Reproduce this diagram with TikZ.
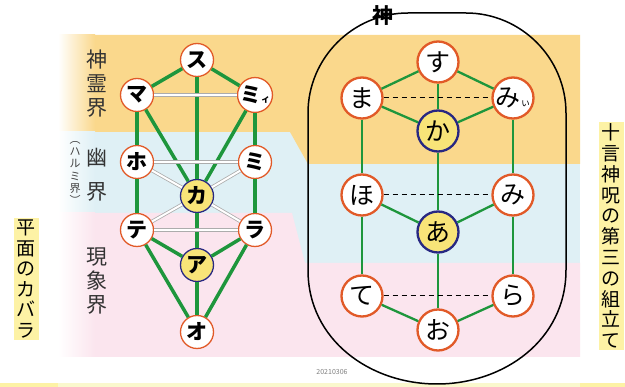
\documentclass[tikz,border=0pt]{standalone}
\usepackage{fontspec}
\setmainfont{Noto Sans CJK JP}
\definecolor{bgor}{RGB}{250,216,140}
\definecolor{bgbl}{RGB}{223,240,245}
\definecolor{bgpk}{RGB}{251,229,238}
\definecolor{grn}{RGB}{30,150,60}
\definecolor{nodeor}{RGB}{225,90,40}
\definecolor{cenyel}{RGB}{248,228,120}
\definecolor{cenblue}{RGB}{40,40,130}
\definecolor{labyel}{RGB}{253,242,165}
\definecolor{bandyel}{RGB}{250,248,205}
\begin{document}
\begin{tikzpicture}[x=1pt,y=-1pt,
  lnode/.style={circle, draw=nodeor, line width=1.3pt, fill=white, minimum size=33pt, inner sep=0pt, font=\fontsize{21}{21}\selectfont\bfseries},
  lcen/.style={lnode, draw=cenblue, fill=cenyel},
  rnode/.style={circle, draw=nodeor, line width=2.3pt, fill=white, minimum size=41pt, inner sep=0pt, font=\fontsize{25}{25}\selectfont},
  rcen/.style={rnode, draw=cenblue, fill=cenyel},
  gl/.style={draw=grn, line width=3.5pt},
  gr/.style={draw=grn, line width=2.3pt},
  dbl/.style={draw=gray!65, double=white, double distance=2pt, line width=0.8pt},
  dsh/.style={draw=black, line width=1pt, dash pattern=on 5pt off 4pt},
  vlab/.style={align=center, inner sep=0pt, text=black!80, font=\fontsize{21}{24}\selectfont},
  sidelab/.style={align=center, fill=labyel, inner xsep=3pt, inner ysep=2pt, font=\fontsize{19}{20.5}\selectfont}
]
\useasboundingbox (0,0) rectangle (625,387);
\fill[white] (0,0) rectangle (625,387);
% backgrounds
\fill[bgbl] (95,132) rectangle (580,357);
\fill[bgor] (95,35) -- (580,35) -- (580,164) -- (308,164) -- (290,132) -- (95,132) -- cycle;
\fill[bgpk] (95,213) -- (292,213) -- (305,263) -- (580,263) -- (580,357) -- (95,357) -- cycle;
\shade[left color=white, right color=bgor] (58,35) rectangle (95,132);
\shade[left color=white, right color=bgbl] (58,132) rectangle (95,213);
\shade[left color=white, right color=bgpk] (58,213) rectangle (95,357);
\fill[bandyel] (0,383) rectangle (625,387);
\fill[labyel] (0,383) rectangle (58,387);
\fill[labyel] (580,383) rectangle (625,387);
% stadium
\draw[line width=1.5pt] (308,113) -- (308,270)
  .. controls (308,340) and (370,384) .. (437,384)
  .. controls (504,384) and (566,340) .. (566,270)
  -- (566,113)
  .. controls (566,58) and (521,13) .. (466,13)
  -- (408,13)
  .. controls (353,13) and (308,58) .. (308,113) -- cycle;
\node[font=\fontsize{21}{21}\selectfont\bfseries] (kami) at (383,16) {神};
% left labels
\node[vlab] (l1) at (97,84) {神\\霊\\界};
\node[vlab, font=\fontsize{21}{34}\selectfont] (l2) at (97,175) {幽\\界};
\node[vlab, text=black!75, font=\fontsize{11}{12.2}\selectfont] (l2s) at (75,173) {︵\\ハ\\ル\\ミ\\界\\︶};
\node[vlab] (l3) at (97,281) {現\\象\\界};
\node[sidelab] (side1) at (26,279) {平\\面\\の\\カ\\バ\\ラ};
\node[sidelab, font=\fontsize{19}{20.8}\selectfont] (side2) at (611,236) {十\\言\\神\\呪\\の\\第\\三\\の\\組\\立\\て};
\node[text=gray, font=\fontsize{7}{7}\selectfont] (date) at (332,372) {20210306};
% left nodes
\node[lnode] (S) at (197,60) {ス};
\node[lnode] (Ma) at (137,95) {マ};
\node[lnode] (Mi1) at (255,95) {ミ\fontsize{9}{9}\selectfont ィ};
\node[lnode] (Ho) at (137,162) {ホ};
\node[lnode] (Mi) at (255,162) {ミ};
\node[lcen] (Ka) at (197,196) {カ};
\node[lnode] (Te) at (137,230) {テ};
\node[lnode] (Ra) at (255,230) {ラ};
\node[lcen] (A) at (197,265) {ア};
\node[lnode] (O) at (197,332) {オ};
% left edges
\foreach \a/\b in {S/Ma,S/Mi1,S/Ka,Ma/Ho,Mi1/Mi,Ma/Ka,Mi1/Ka,Ho/Te,Mi/Ra,Ka/A,Te/A,Ra/A,Te/O,Ra/O,A/O}
  \draw[gl] (\a) -- (\b);
\foreach \a/\b in {Ma/Mi1,Ho/Mi,Ho/Ka,Mi/Ka,Te/Ra,Ka/Te,Ka/Ra}
  \draw[dbl] (\a) -- (\b);
% right nodes
\node[rnode] (s) at (438,62) {す};
\node[rnode] (ma) at (362,98) {ま};
\node[rnode] (mi1) at (513,98) {み\fontsize{10}{10}\selectfont ぃ};
\node[rcen] (ka) at (438,131) {か};
\node[rnode] (ho) at (362,195) {ほ};
\node[rnode] (mi) at (513,195) {み};
\node[rcen] (a) at (438,232) {あ};
\node[rnode] (te) at (362,296) {て};
\node[rnode] (ra) at (513,296) {ら};
\node[rnode] (o) at (438,330) {お};
% right edges
\foreach \p/\q in {s/ma,s/mi1,s/ka,ma/ka,mi1/ka,ma/ho,mi1/mi,ka/a,ho/a,mi/a,ho/te,mi/ra,a/o,te/o,ra/o}
  \draw[gr] (\p) -- (\q);
\foreach \p/\q in {ma/mi1,ho/mi,te/ra}
  \draw[dsh] (\p) -- (\q);
\end{tikzpicture}
\end{document}
